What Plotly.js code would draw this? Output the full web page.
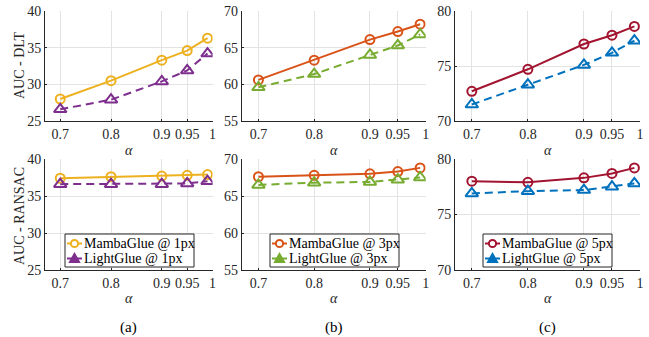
<!DOCTYPE html>
<html><head><meta charset="utf-8">
<script src="https://cdn.plot.ly/plotly-3.0.1.min.js"></script>
<style>html,body{margin:0;padding:0;background:#fff}#c{width:649px;height:337px}</style>
</head><body><div id="c"></div>
<script>
const alpha = [0.7, 0.8, 0.9, 0.95, 0.99];
const xTicks = [0.7, 0.8, 0.9, 0.95, 1];
const xTickLabels = ["0.7", "0.8", "0.9", "0.95", "1"];

// DLT (top row)
const mamba1_dlt = [28.0, 30.5, 33.3, 34.6, 36.3];
const light1_dlt = [26.6, 27.9, 30.4, 31.9, 34.2];
const mamba3_dlt = [60.6, 63.3, 66.1, 67.2, 68.2];
const light3_dlt = [59.6, 61.4, 64.0, 65.3, 66.8];
const mamba5_dlt = [72.7, 74.7, 77.0, 77.8, 78.6];
const light5_dlt = [71.5, 73.3, 75.1, 76.2, 77.3];
// RANSAC (bottom row)
const mamba1_ran = [37.4, 37.6, 37.7, 37.8, 37.9];
const light1_ran = [36.6, 36.6, 36.6, 36.7, 37.0];
const mamba3_ran = [67.6, 67.8, 68.0, 68.3, 68.8];
const light3_ran = [66.5, 66.8, 66.9, 67.2, 67.5];
const mamba5_ran = [78.0, 77.9, 78.3, 78.7, 79.2];
const light5_ran = [76.9, 77.1, 77.2, 77.5, 77.8];

const yRanges = [[25, 40], [55, 70], [70, 80]];
const yTicksList = [[25, 30, 35, 40], [55, 60, 65, 70], [70, 75, 80]];
const legendNames = [["MambaGlue @ 1px", "LightGlue @ 1px"], ["MambaGlue @ 3px", "LightGlue @ 3px"], ["MambaGlue @ 5px", "LightGlue @ 5px"]];
const panelLabels = ["(a)", "(b)", "(c)"];

const mambaColors = ["#EDB120", "#D95319", "#A2142F"];
const lightColors = ["#7E2F8E", "#77AC30", "#0072BD"];

const topData = [[mamba1_dlt, light1_dlt], [mamba3_dlt, light3_dlt], [mamba5_dlt, light5_dlt]];
const botData = [[mamba1_ran, light1_ran], [mamba3_ran, light3_ran], [mamba5_ran, light5_ran]];

const W = 649, H = 337;
const px = v => v / W, py = v => 1 - v / H;
const xDom = [[45, 212.6], [241.7, 425.7], [455, 640]].map(d => [px(d[0]), px(d[1])]);
const yTop = [py(121), py(11)];
const yBot = [py(270), py(159)];

const FAM = "Liberation Serif";
const font = {family: FAM, size: 14, color: "#262626"};
const traces = [];
const layout = {
  width: W, height: H, margin: {l: 0, r: 0, t: 0, b: 0},
  paper_bgcolor: "#fff", plot_bgcolor: "#fff",
  font: font, showlegend: false, annotations: [], shapes: []
};

function mkTraces(data, i, xa, ya) {
  traces.push({
    x: alpha, y: data[0], xaxis: xa, yaxis: ya, type: "scatter", mode: "lines+markers",
    name: legendNames[i][0],
    line: {color: mambaColors[i], width: 2},
    marker: {symbol: "circle-open", size: 9, color: mambaColors[i], line: {width: 2, color: mambaColors[i]}}
  });
  traces.push({
    x: alpha, y: data[1], xaxis: xa, yaxis: ya, type: "scatter", mode: "lines+markers",
    name: legendNames[i][1],
    line: {color: lightColors[i], width: 2, dash: "8px,5px"},
    marker: {symbol: "triangle-up-open", size: 11, color: lightColors[i], line: {width: 2, color: lightColors[i]}}
  });
}

const legendLeft = [65, 270, 483];
const legTop = 234, legBot = 267, legW = 129;
const rowY = [243.5, 258.5];

for (let i = 0; i < 3; i++) {
  const nTop = i + 1, nBot = i + 4;
  const xaT = "x" + nTop, yaT = "y" + nTop, xaB = "x" + nBot, yaB = "y" + nBot;
  mkTraces(topData[i], i, xaT, yaT);
  mkTraces(botData[i], i, xaB, yaB);

  const xCommon = {
    range: [0.67, 1.0], tickvals: xTicks, ticktext: xTickLabels,
    showgrid: true, gridcolor: "#e3e3e3", gridwidth: 1,
    showline: true, linecolor: "#262626", linewidth: 1, zeroline: false,
    ticks: "inside", ticklen: 2, tickcolor: "#262626", tickfont: font, fixedrange: true
  };
  const yCommon = {
    range: yRanges[i], tickvals: yTicksList[i],
    showgrid: true, gridcolor: "#e3e3e3", gridwidth: 1,
    showline: true, linecolor: "#262626", linewidth: 1, zeroline: false,
    ticks: "inside", ticklen: 2, tickcolor: "#262626", tickfont: font, fixedrange: true
  };
  layout["xaxis" + nTop] = Object.assign({}, xCommon, {domain: xDom[i], anchor: yaT});
  layout["yaxis" + nTop] = Object.assign({}, yCommon, {domain: yTop, anchor: xaT});
  layout["xaxis" + nBot] = Object.assign({}, xCommon, {domain: xDom[i], anchor: yaB});
  layout["yaxis" + nBot] = Object.assign({}, yCommon, {domain: yBot, anchor: xaB});

  const cx = (xDom[i][0] + xDom[i][1]) / 2;
  layout.annotations.push({text: "<i>α</i>", xref: "paper", yref: "paper", x: cx, y: py(150),
    showarrow: false, font: font, xanchor: "center", yanchor: "middle"});
  layout.annotations.push({text: "<i>α</i>", xref: "paper", yref: "paper", x: cx, y: py(298),
    showarrow: false, font: font, xanchor: "center", yanchor: "middle"});
  layout.annotations.push({text: panelLabels[i], xref: "paper", yref: "paper", x: cx, y: py(327),
    showarrow: false, font: {family: FAM, size: 15, color: "#000"}, xanchor: "center", yanchor: "middle"});

  // legend box (drawn with shapes + annotations)
  const L = legendLeft[i];
  layout.shapes.push({type: "rect", xref: "paper", yref: "paper", x0: px(L), x1: px(L + legW), y0: py(legBot), y1: py(legTop),
    line: {color: "#262626", width: 1}, fillcolor: "#fff", layer: "above"});
  const mc = L + 9.5;
  // MambaGlue entry
  layout.shapes.push({type: "line", xref: "paper", yref: "paper", x0: px(L + 2), x1: px(L + 17), y0: py(rowY[0]), y1: py(rowY[0]),
    line: {color: mambaColors[i], width: 2}, layer: "above"});
  layout.shapes.push({type: "circle", xref: "paper", yref: "paper", x0: px(mc - 3.6), x1: px(mc + 3.6), y0: py(rowY[0] + 3.6), y1: py(rowY[0] - 3.6),
    line: {color: mambaColors[i], width: 2}, fillcolor: "#fff", layer: "above"});
  // LightGlue entry
  layout.shapes.push({type: "line", xref: "paper", yref: "paper", x0: px(L + 2), x1: px(L + 17), y0: py(rowY[1]), y1: py(rowY[1]),
    line: {color: lightColors[i], width: 2}, layer: "above"});
  const ty = rowY[1];
  const tri = `M ${px(mc - 4.5)},${py(ty + 3.5)} L ${px(mc + 4.5)},${py(ty + 3.5)} L ${px(mc)},${py(ty - 4.5)} Z`;
  layout.shapes.push({type: "path", xref: "paper", yref: "paper", path: tri,
    line: {color: lightColors[i], width: 2}, fillcolor: lightColors[i], layer: "above"});
  for (let r = 0; r < 2; r++) {
    layout.annotations.push({text: legendNames[i][r], xref: "paper", yref: "paper", x: px(L + 16.5), y: py(rowY[r]),
      showarrow: false, font: {family: FAM, size: 14, color: "#000"}, xanchor: "left", yanchor: "middle"});
  }
}

layout.annotations.push({text: "AUC - DLT", xref: "paper", yref: "paper", x: px(19), y: py(65),
  textangle: -90, showarrow: false, font: font, xanchor: "center", yanchor: "middle"});
layout.annotations.push({text: "AUC - RANSAC", xref: "paper", yref: "paper", x: px(19), y: py(216),
  textangle: -90, showarrow: false, font: font, xanchor: "center", yanchor: "middle"});

Plotly.newPlot("c", traces, layout, {staticPlot: true, displayModeBar: false});
</script></body></html>
